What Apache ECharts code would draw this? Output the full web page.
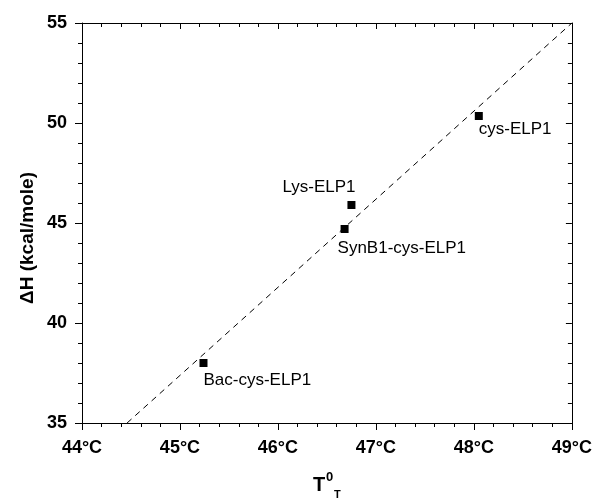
<!DOCTYPE html>
<html>
<head>
<meta charset="utf-8">
<script src="https://cdn.jsdelivr.net/npm/echarts@6/dist/echarts.min.js"></script>
<style>html,body{margin:0;padding:0;background:#fff}#c{width:595px;height:501px}</style>
</head>
<body>
<div id="c"></div>
<script>
var sampleNames = ['Bac-cys-ELP1', 'SynB1-cys-ELP1', 'Lys-ELP1', 'cys-ELP1'];
var transitionTemps = [45.24, 46.68, 46.75, 48.05];
var enthalpies = [38.0, 44.7, 45.9, 50.35];
var fitLineX = [44.46, 49.0];
var fitLineY = [35, 55];

var labelOffsets = [[0, 17], [-7, 19], [-69, -18], [0, 13]];

var chart = echarts.init(document.getElementById('c'));
var font = 'Liberation Sans, Arial, sans-serif';

var points = sampleNames.map(function (n, i) {
  return {
    name: n,
    value: [transitionTemps[i], enthalpies[i]],
    label: { offset: labelOffsets[i] }
  };
});
var fitData = fitLineX.map(function (x, i) { return [x, fitLineY[i]]; });

function axisBase(extra) {
  var a = {
    type: 'value',
    axisLine: { show: true, onZero: false, lineStyle: { color: '#000', width: 1 } },
    splitLine: { show: false },
    minorSplitLine: { show: false }
  };
  for (var k in extra) a[k] = extra[k];
  return a;
}

chart.setOption({
  animation: false,
  backgroundColor: '#fff',
  grid: { left: 82, right: 22, top: 23, bottom: 78 },
  xAxis: [
    axisBase({
      position: 'bottom', min: 44, max: 49, interval: 1,
      axisTick: { show: true, inside: false, length: 7, lineStyle: { color: '#000' } },
      minorTick: { show: true, splitNumber: 5, length: 4, lineStyle: { color: '#000' } },
      axisLabel: { margin: 16, color: '#000', fontFamily: font, fontWeight: 'bold', fontSize: 18,
        formatter: function (v) { return v + '°C'; } }
    }),
    axisBase({
      position: 'top', min: 44, max: 49, interval: 1,
      axisTick: { show: true, inside: true, length: 6, lineStyle: { color: '#000' } },
      minorTick: { show: true, splitNumber: 5, length: 4, lineStyle: { color: '#000' } },
      axisLabel: { show: false }
    })
  ],
  yAxis: [
    axisBase({
      position: 'left', min: 35, max: 55, interval: 5,
      axisTick: { show: true, inside: false, length: 7, lineStyle: { color: '#000' } },
      minorTick: { show: true, splitNumber: 5, length: 4, lineStyle: { color: '#000' } },
      axisLabel: { margin: 15, color: '#000', fontFamily: font, fontWeight: 'bold', fontSize: 18 }
    }),
    axisBase({
      position: 'right', min: 35, max: 55, interval: 5,
      axisTick: { show: true, inside: true, length: 6, lineStyle: { color: '#000' } },
      minorTick: { show: true, splitNumber: 5, length: 4, lineStyle: { color: '#000' } },
      axisLabel: { show: false }
    })
  ],
  series: [
    {
      type: 'line',
      data: fitData,
      xAxisIndex: 0, yAxisIndex: 0,
      symbol: 'none',
      lineStyle: { color: '#000', width: 1, type: [6, 5] },
      silent: true,
      z: 1
    },
    {
      type: 'scatter',
      data: points,
      xAxisIndex: 0, yAxisIndex: 0,
      symbol: 'rect',
      symbolSize: 8,
      itemStyle: { color: '#000', opacity: 1 },
      label: {
        show: true,
        position: 'inside',
        align: 'left',
        verticalAlign: 'middle',
        color: '#000',
        opacity: 1,
        textBorderWidth: 0,
        fontFamily: font,
        fontSize: 17,
        formatter: function (p) { return p.name; }
      },
      z: 3
    }
  ],
  graphic: [
    {
      type: 'text', x: 28, y: 238, rotation: Math.PI / 2,
      style: { text: 'ΔH (kcal/mole)', fill: '#000', font: 'bold 19px ' + font,
        textAlign: 'center', textVerticalAlign: 'middle' }
    },
    {
      type: 'text', x: 313, y: 485,
      style: { text: 'T', fill: '#000', font: 'bold 20px ' + font,
        textAlign: 'left', textVerticalAlign: 'middle' }
    },
    {
      type: 'text', x: 326, y: 477,
      style: { text: '0', fill: '#000', font: 'bold 13px ' + font,
        textAlign: 'left', textVerticalAlign: 'middle' }
    },
    {
      type: 'text', x: 334, y: 495,
      style: { text: 'T', fill: '#000', font: 'bold 11px ' + font,
        textAlign: 'left', textVerticalAlign: 'middle' }
    }
  ]
});
</script>
</body>
</html>
